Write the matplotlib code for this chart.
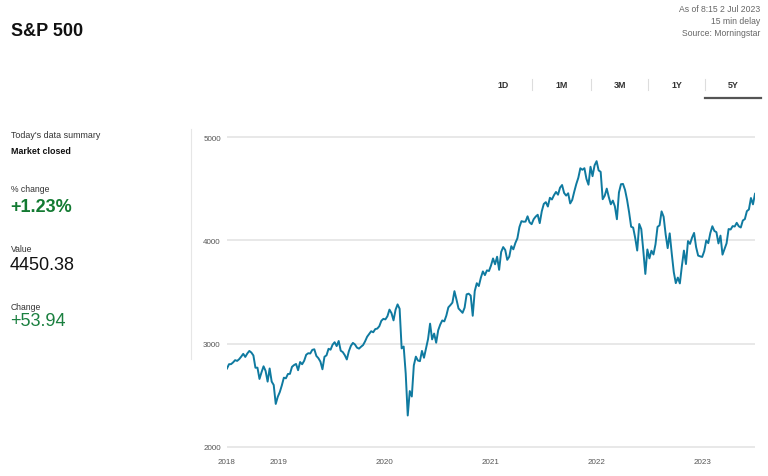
import numpy as np
import pandas as pd
import matplotlib.pyplot as plt
from matplotlib.lines import Line2D

plt.rcParams['font.family'] = ['Liberation Sans', 'DejaVu Sans']

# weekly closes, S&P 500, Jul 2018 - Jun 2023
start_date = "2018-07-06"
closes = [
    # 2018
    2759.82, 2801.31, 2801.83, 2818.82, 2840.35, 2833.28, 2850.13, 2874.69, 2901.52,
    2871.68, 2904.98, 2929.67, 2913.98, 2885.57, 2767.13, 2767.78, 2658.69,
    2723.06, 2781.01, 2736.27, 2632.56, 2760.17, 2633.08, 2599.95, 2416.62, 2485.74,
    # 2019
    2531.94, 2596.26, 2670.71, 2664.76, 2706.53, 2707.88, 2775.60, 2792.67,
    2803.69, 2743.07, 2822.48, 2800.71, 2834.40, 2892.74, 2907.41, 2905.03, 2939.88,
    2945.64, 2881.40, 2859.53, 2826.06, 2752.06, 2873.34, 2886.98, 2950.46, 2941.76,
    2990.41, 3013.77, 2976.61, 3025.86, 2932.05, 2918.65, 2888.68, 2847.11, 2926.46,
    2978.71, 3007.39, 2992.07, 2961.79, 2952.01, 2970.27, 2986.20, 3022.55,
    3066.91, 3093.08, 3120.46, 3110.29, 3140.98, 3145.91, 3168.80, 3221.22, 3240.02,
    # 2020
    3234.85, 3265.35, 3329.62, 3295.47, 3225.52, 3327.71, 3380.16, 3337.75, 2954.22,
    2972.37, 2711.02, 2304.92, 2541.47, 2488.65, 2789.82, 2874.56, 2836.74,
    2830.71, 2929.80, 2863.70, 2955.45, 3044.31, 3193.93, 3041.31, 3097.74, 3009.05,
    3130.01, 3185.04, 3224.73, 3215.63, 3271.12, 3351.28, 3372.85, 3397.16, 3508.01,
    3426.96, 3340.97, 3319.47, 3298.46, 3348.42, 3477.13, 3483.81, 3465.39, 3269.96,
    3509.44, 3585.15, 3557.54, 3638.35, 3699.12, 3663.46, 3709.41, 3703.06, 3756.07,
    # 2021
    3824.68, 3768.25, 3841.47, 3714.24, 3886.83, 3934.83, 3906.71, 3811.15,
    3841.94, 3943.34, 3913.10, 3974.54, 4019.87, 4128.80, 4185.47, 4180.17, 4181.17,
    4232.60, 4173.85, 4155.86, 4204.11, 4229.89, 4247.44, 4166.45, 4280.70,
    4352.34, 4369.55, 4327.16, 4411.79, 4395.26, 4436.52, 4468.00, 4441.67, 4509.37,
    4535.43, 4458.58, 4432.99, 4455.48, 4357.04, 4391.34, 4471.37, 4544.90, 4605.38,
    4697.53, 4682.85, 4697.96, 4594.62, 4538.43, 4712.02, 4620.64, 4725.79, 4766.18,
    # 2022
    4677.03, 4662.85, 4397.94, 4431.85, 4500.53, 4418.64, 4348.87, 4384.65,
    4328.87, 4204.31, 4463.12, 4543.06, 4545.86, 4488.28, 4392.59, 4271.78, 4131.93,
    4123.34, 4023.89, 3901.36, 4158.24, 4108.54, 3900.86, 3674.84, 3911.74,
    3825.33, 3899.38, 3863.16, 3961.63, 4130.29, 4145.19, 4280.15, 4228.48, 4057.66,
    3924.26, 4067.36, 3873.33, 3693.23, 3585.62, 3639.66, 3583.07, 3752.75, 3901.06,
    3770.55, 3992.93, 3965.34, 4026.12, 4071.70, 3934.38, 3852.36, 3844.82, 3839.50,
    # 2023
    3895.08, 3999.09, 3972.61, 4070.56, 4136.48, 4090.46, 4079.09, 3970.04,
    4045.64, 3861.59, 3916.64, 3970.99, 4109.31, 4105.02, 4137.64, 4133.52, 4169.48,
    4136.25, 4124.08, 4191.98, 4205.45, 4282.37, 4298.86, 4409.59, 4348.33, 4450.38,
]
dates = pd.date_range(start_date, periods=len(closes), freq="W-FRI")

year_ticks = ["2018", "2019", "2020", "2021", "2022", "2023"]
y_ticks = [2000, 3000, 4000, 5000]
tabs = ["1D", "1M", "3M", "1Y", "5Y"]
tab_x = [503, 562, 620, 677, 733]

W, H = 768, 477
fig = plt.figure(figsize=(W / 100, H / 100), dpi=100)

def fx(px):
    return px / W

def fy(py):
    return 1 - py / H

# chart area (pixel layout)
ymin, ymax = 1980, 5020
top = 138 - (ymax - 5000) * 310 / 3000
bot = 448 + (2000 - ymin) * 310 / 3000
ax = fig.add_axes([fx(227), fy(bot), fx(755) - fx(227), fy(top) - fy(bot)])
ax.plot(dates, closes, color="#0f7aa0", linewidth=1.4, solid_joinstyle="round")
ax.set_xlim(dates[0], dates[-1])
ax.set_ylim(ymin, ymax)
for v in y_ticks:
    ax.axhline(v, color="#e2e2e2", linewidth=1.1, zorder=0)
ax.set_yticks(y_ticks)
ax.set_yticklabels([str(v) for v in y_ticks])
xt = [dates[0]] + [pd.Timestamp(f"{y}-01-01") for y in year_ticks[1:]]
ax.set_xticks(xt)
ax.set_xticklabels(year_ticks)
ax.tick_params(axis="both", length=0, labelsize=5.8, labelcolor="#555555")
ax.tick_params(axis="y", pad=4.5)
ax.tick_params(axis="x", pad=6.5)
for s in ax.spines.values():
    s.set_visible(False)

# header
fig.text(fx(11), fy(31), "S&P 500", fontsize=13, fontweight="bold", color="#111111", va="center")
for i, t in enumerate(["As of 8:15 2 Jul 2023", "15 min delay", "Source: Morningstar"]):
    fig.text(fx(760), fy(10 + 12 * i), t, fontsize=6.2, color="#666666", ha="right", va="center")

# period tabs
for t, x in zip(tabs, tab_x):
    fig.text(fx(x), fy(85), t, fontsize=6.4, fontweight="bold", color="#333333", ha="center", va="center")
for x in [532, 591, 648, 705]:
    fig.add_artist(Line2D([fx(x), fx(x)], [fy(80), fy(91)], color="#dddddd", linewidth=0.8))
fig.add_artist(Line2D([fx(705), fx(761)], [fy(98.5), fy(98.5)], color="#555555", linewidth=1.6))

# left summary panel
fig.add_artist(Line2D([fx(191), fx(191)], [fy(130), fy(360)], color="#e6e6e6", linewidth=0.8))
fig.text(fx(11), fy(136), "Today's data summary", fontsize=6.4, color="#333333", va="center")
fig.text(fx(11), fy(152), "Market closed", fontsize=6.4, fontweight="bold", color="#111111", va="center")
fig.text(fx(11), fy(190), "% change", fontsize=6.2, color="#333333", va="center")
fig.text(fx(10), fy(207), "+1.23%", fontsize=13, fontweight="bold", color="#137a32", va="center")
fig.text(fx(11), fy(250), "Value", fontsize=6.2, color="#333333", va="center")
fig.text(fx(10), fy(265), "4450.38", fontsize=13, color="#111111", va="center")
fig.text(fx(11), fy(307), "Change", fontsize=6.2, color="#333333", va="center")
fig.text(fx(10), fy(322), "+53.94", fontsize=13, color="#1b8040", va="center")

fig.savefig("out.png", dpi=100)
